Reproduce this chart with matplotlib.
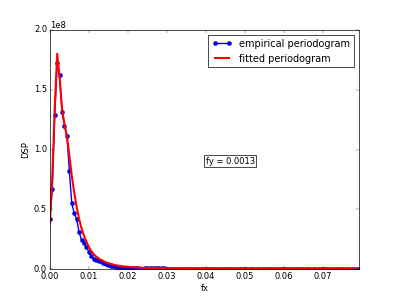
import numpy as np
import matplotlib
matplotlib.use("Agg")
import matplotlib.pyplot as plt

plt.style.use("classic")

# frequency grid step
df = 0.000625

# empirical periodogram (x 1e8)
empirical = [
    0.42, 0.667, 1.29, 1.72, 1.62, 1.31, 1.20, 1.115, 0.82, 0.55,
    0.47, 0.415, 0.31, 0.243, 0.22, 0.187, 0.145, 0.109, 0.081, 0.072,
    0.068, 0.064, 0.055, 0.045, 0.035, 0.030, 0.025, 0.020, 0.017, 0.015,
    0.013, 0.011, 0.010, 0.009, 0.008, 0.007, 0.006, 0.005, 0.005, 0.006,
    0.008, 0.010, 0.012, 0.013, 0.012, 0.010, 0.008, 0.006, 0.005, 0.004,
    0.004, 0.005, 0.004, 0.003, 0.004, 0.003, 0.003, 0.004, 0.003, 0.003,
    0.002, 0.003, 0.003, 0.002, 0.003, 0.002, 0.002, 0.003, 0.002, 0.002,
    0.002, 0.002, 0.003, 0.002, 0.002, 0.002, 0.001, 0.002, 0.002, 0.002,
    0.001, 0.002, 0.002, 0.001, 0.002, 0.001, 0.001, 0.002, 0.001, 0.001,
    0.001, 0.002, 0.001, 0.001, 0.001, 0.001, 0.002, 0.001, 0.001, 0.001,
    0.001, 0.001, 0.001, 0.001, 0.001, 0.001, 0.001, 0.001, 0.001, 0.001,
    0.001, 0.001, 0.001, 0.001, 0.001, 0.001, 0.001, 0.001, 0.001, 0.001,
    0.001, 0.001, 0.001, 0.001, 0.001, 0.001, 0.001, 0.001,
]

# fitted periodogram (x 1e8)
fitted = [
    0.38, 0.78, 1.35, 1.80, 1.60, 1.34, 1.21, 1.11, 0.95, 0.78,
    0.64, 0.52, 0.42, 0.34, 0.28, 0.23, 0.185, 0.15, 0.125, 0.105,
    0.090, 0.077, 0.066, 0.057, 0.050, 0.044, 0.038, 0.033, 0.029, 0.026,
    0.023, 0.021, 0.019, 0.017, 0.016, 0.015, 0.014, 0.013, 0.012, 0.011,
    0.010, 0.010, 0.009, 0.009, 0.009, 0.008, 0.008, 0.008, 0.007, 0.007,
    0.007, 0.007, 0.0065, 0.0065, 0.0065, 0.006, 0.006, 0.006, 0.006, 0.006,
    0.0058, 0.0058, 0.0056, 0.0056, 0.0055, 0.0055, 0.0054, 0.0054, 0.0053, 0.0053,
    0.0052, 0.0052, 0.0051, 0.0051, 0.005, 0.005, 0.005, 0.005, 0.0049, 0.0049,
    0.0048, 0.0048, 0.0048, 0.0047, 0.0047, 0.0047, 0.0046, 0.0046, 0.0046, 0.0045,
    0.0045, 0.0045, 0.0045, 0.0044, 0.0044, 0.0044, 0.0044, 0.0043, 0.0043, 0.0043,
    0.0043, 0.0042, 0.0042, 0.0042, 0.0042, 0.0042, 0.0041, 0.0041, 0.0041, 0.0041,
    0.0041, 0.004, 0.004, 0.004, 0.004, 0.004, 0.004, 0.004, 0.004, 0.004,
    0.004, 0.004, 0.004, 0.004, 0.004, 0.004, 0.004, 0.004,
]

fy_label = "fy = 0.0013"

fx = df * np.arange(len(empirical))
emp = np.array(empirical) * 1e8
fit = np.array(fitted) * 1e8

fig = plt.figure(figsize=(3.99 * 2, 2.99 * 2), dpi=50)
ax = fig.add_subplot(111)
ax.plot(fx, emp, "o-", color="blue", lw=2, markersize=6, mec="#000080",
        label="empirical periodogram")
ax.plot(fx, fit, "-", color="red", lw=3, label="fitted periodogram")
ax.set_xlim(0, fx[-1])
ax.set_ylim(0, 2e8)
ax.set_xlabel("fx")
ax.set_ylabel("DSP")
ax.text(0.04, 0.88e8, fy_label, fontsize=12,
        bbox=dict(facecolor="white", edgecolor="black", pad=2))
ax.legend(loc="upper right", fontsize=14)
fig.savefig("out.png", dpi=50, facecolor="white")
